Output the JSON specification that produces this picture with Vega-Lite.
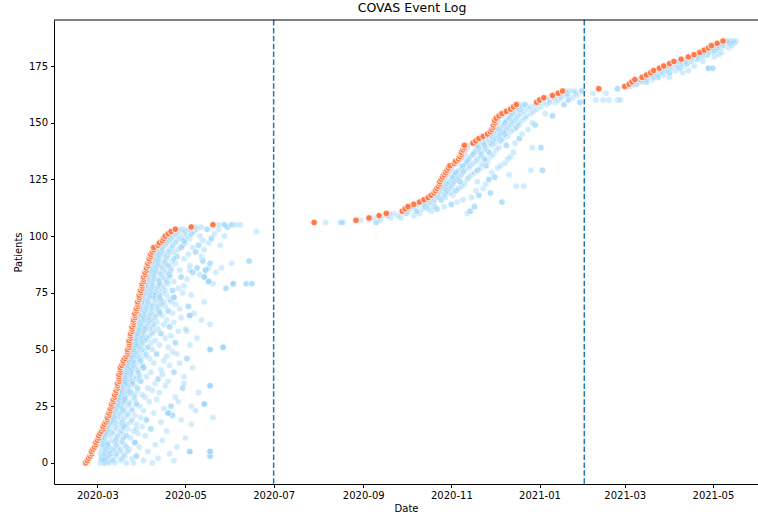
{
"$schema":"https://vega.github.io/schema/vega-lite/v6.json",
"width":704,"height":464,
"autosize":{"type":"none"},
"padding":{"left":54,"top":20,"right":0,"bottom":34},
"background":"white",
"title":{"text":"COVAS Event Log","fontSize":12.5,"fontWeight":"normal","font":"DejaVu Sans","color":"black","anchor":"middle","dx":6,"offset":5},
"config":{"view":{"stroke":null},"font":"DejaVu Sans","axis":{"labelFontSize":10,"titleFontSize":10,"labelColor":"black","titleColor":"black","tickColor":"black","domainColor":"black","domainWidth":1,"tickWidth":1,"tickSize":3.5,"grid":false,"titleFontWeight":"normal","labelFont":"DejaVu Sans","titleFont":"DejaVu Sans"}},
"datasets":{
"lines":[{"d":"2020-07-01"},{"d":"2021-02-01"}],
"adm":[
{"p":0,"d":"2020-02-22"},{"p":1,"d":"2020-02-23"},{"p":2,"d":"2020-02-24"},{"p":3,"d":"2020-02-25"},{"p":4,"d":"2020-02-26"},{"p":5,"d":"2020-02-26"},{"p":6,"d":"2020-02-27"},{"p":7,"d":"2020-02-28"},{"p":8,"d":"2020-02-29"},{"p":9,"d":"2020-02-29"},
{"p":10,"d":"2020-03-01"},{"p":11,"d":"2020-03-02"},{"p":12,"d":"2020-03-02"},{"p":13,"d":"2020-03-03"},{"p":14,"d":"2020-03-04"},{"p":15,"d":"2020-03-05"},{"p":16,"d":"2020-03-05"},{"p":17,"d":"2020-03-06"},{"p":18,"d":"2020-03-07"},{"p":19,"d":"2020-03-08"},
{"p":20,"d":"2020-03-08"},{"p":21,"d":"2020-03-09"},{"p":22,"d":"2020-03-09"},{"p":23,"d":"2020-03-10"},{"p":24,"d":"2020-03-10"},{"p":25,"d":"2020-03-11"},{"p":26,"d":"2020-03-11"},{"p":27,"d":"2020-03-12"},{"p":28,"d":"2020-03-12"},{"p":29,"d":"2020-03-13"},
{"p":30,"d":"2020-03-13"},{"p":31,"d":"2020-03-14"},{"p":32,"d":"2020-03-14"},{"p":33,"d":"2020-03-15"},{"p":34,"d":"2020-03-15"},{"p":35,"d":"2020-03-15"},{"p":36,"d":"2020-03-16"},{"p":37,"d":"2020-03-16"},{"p":38,"d":"2020-03-16"},{"p":39,"d":"2020-03-16"},
{"p":40,"d":"2020-03-17"},{"p":41,"d":"2020-03-17"},{"p":42,"d":"2020-03-17"},{"p":43,"d":"2020-03-18"},{"p":44,"d":"2020-03-19"},{"p":45,"d":"2020-03-19"},{"p":46,"d":"2020-03-20"},{"p":47,"d":"2020-03-21"},{"p":48,"d":"2020-03-22"},{"p":49,"d":"2020-03-22"},
{"p":50,"d":"2020-03-22"},{"p":51,"d":"2020-03-23"},{"p":52,"d":"2020-03-23"},{"p":53,"d":"2020-03-23"},{"p":54,"d":"2020-03-23"},{"p":55,"d":"2020-03-24"},{"p":56,"d":"2020-03-24"},{"p":57,"d":"2020-03-24"},{"p":58,"d":"2020-03-25"},{"p":59,"d":"2020-03-25"},
{"p":60,"d":"2020-03-25"},{"p":61,"d":"2020-03-26"},{"p":62,"d":"2020-03-26"},{"p":63,"d":"2020-03-26"},{"p":64,"d":"2020-03-27"},{"p":65,"d":"2020-03-27"},{"p":66,"d":"2020-03-27"},{"p":67,"d":"2020-03-28"},{"p":68,"d":"2020-03-28"},{"p":69,"d":"2020-03-29"},
{"p":70,"d":"2020-03-29"},{"p":71,"d":"2020-03-29"},{"p":72,"d":"2020-03-30"},{"p":73,"d":"2020-03-30"},{"p":74,"d":"2020-03-30"},{"p":75,"d":"2020-03-31"},{"p":76,"d":"2020-03-31"},{"p":77,"d":"2020-04-01"},{"p":78,"d":"2020-04-01"},{"p":79,"d":"2020-04-01"},
{"p":80,"d":"2020-04-02"},{"p":81,"d":"2020-04-02"},{"p":82,"d":"2020-04-02"},{"p":83,"d":"2020-04-03"},{"p":84,"d":"2020-04-03"},{"p":85,"d":"2020-04-04"},{"p":86,"d":"2020-04-04"},{"p":87,"d":"2020-04-05"},{"p":88,"d":"2020-04-05"},{"p":89,"d":"2020-04-06"},
{"p":90,"d":"2020-04-06"},{"p":91,"d":"2020-04-07"},{"p":92,"d":"2020-04-07"},{"p":93,"d":"2020-04-08"},{"p":94,"d":"2020-04-09"},{"p":95,"d":"2020-04-09"},{"p":96,"d":"2020-04-12"},{"p":97,"d":"2020-04-13"},{"p":98,"d":"2020-04-15"},{"p":99,"d":"2020-04-16"},
{"p":100,"d":"2020-04-17"},{"p":101,"d":"2020-04-19"},{"p":102,"d":"2020-04-21"},{"p":103,"d":"2020-04-24"},{"p":104,"d":"2020-05-05"},{"p":105,"d":"2020-05-20"},
{"p":106,"d":"2020-07-29"},{"p":107,"d":"2020-08-27"},{"p":108,"d":"2020-09-05"},{"p":109,"d":"2020-09-12"},{"p":110,"d":"2020-09-17"},{"p":111,"d":"2020-09-28"},{"p":112,"d":"2020-09-30"},{"p":113,"d":"2020-10-02"},{"p":114,"d":"2020-10-06"},{"p":115,"d":"2020-10-10"},
{"p":116,"d":"2020-10-13"},{"p":117,"d":"2020-10-16"},{"p":118,"d":"2020-10-18"},{"p":119,"d":"2020-10-20"},{"p":120,"d":"2020-10-21"},{"p":121,"d":"2020-10-22"},{"p":122,"d":"2020-10-23"},{"p":123,"d":"2020-10-24"},{"p":124,"d":"2020-10-24"},{"p":125,"d":"2020-10-25"},
{"p":126,"d":"2020-10-26"},{"p":127,"d":"2020-10-27"},{"p":128,"d":"2020-10-28"},{"p":129,"d":"2020-10-29"},{"p":130,"d":"2020-10-30"},{"p":131,"d":"2020-10-31"},{"p":132,"d":"2020-11-03"},{"p":133,"d":"2020-11-04"},{"p":134,"d":"2020-11-06"},{"p":135,"d":"2020-11-07"},
{"p":136,"d":"2020-11-08"},{"p":137,"d":"2020-11-08"},{"p":138,"d":"2020-11-09"},{"p":139,"d":"2020-11-10"},{"p":140,"d":"2020-11-10"},{"p":141,"d":"2020-11-16"},{"p":142,"d":"2020-11-18"},{"p":143,"d":"2020-11-20"},{"p":144,"d":"2020-11-23"},{"p":145,"d":"2020-11-26"},
{"p":146,"d":"2020-11-28"},{"p":147,"d":"2020-11-29"},{"p":148,"d":"2020-11-30"},{"p":149,"d":"2020-11-30"},{"p":150,"d":"2020-12-01"},{"p":151,"d":"2020-12-01"},{"p":152,"d":"2020-12-02"},{"p":153,"d":"2020-12-04"},{"p":154,"d":"2020-12-06"},{"p":155,"d":"2020-12-09"},
{"p":156,"d":"2020-12-12"},{"p":157,"d":"2020-12-14"},{"p":158,"d":"2020-12-16"},{"p":159,"d":"2020-12-30"},{"p":160,"d":"2021-01-01"},{"p":161,"d":"2021-01-04"},{"p":162,"d":"2021-01-10"},{"p":163,"d":"2021-01-14"},{"p":164,"d":"2021-01-17"},{"p":165,"d":"2021-02-11"},
{"p":166,"d":"2021-03-01"},{"p":167,"d":"2021-03-04"},{"p":168,"d":"2021-03-06"},{"p":169,"d":"2021-03-08"},{"p":170,"d":"2021-03-13"},{"p":171,"d":"2021-03-16"},{"p":172,"d":"2021-03-19"},{"p":173,"d":"2021-03-21"},{"p":174,"d":"2021-03-25"},{"p":175,"d":"2021-03-28"},
{"p":176,"d":"2021-04-01"},{"p":177,"d":"2021-04-04"},{"p":178,"d":"2021-04-09"},{"p":179,"d":"2021-04-14"},{"p":180,"d":"2021-04-18"},{"p":181,"d":"2021-04-22"},{"p":182,"d":"2021-04-25"},{"p":183,"d":"2021-04-28"},{"p":184,"d":"2021-04-30"},{"p":185,"d":"2021-05-04"},{"p":186,"d":"2021-05-08"}
],
"evt":[
{"p":0,"d":"2020-03-03"},{"p":0,"d":"2020-03-06"},{"p":0,"d":"2020-03-06"},{"p":0,"d":"2020-03-13"},{"p":0,"d":"2020-03-21"},{"p":0,"d":"2020-04-08"},
{"p":1,"d":"2020-03-04"},{"p":1,"d":"2020-03-09"},{"p":1,"d":"2020-03-17"},{"p":1,"d":"2020-04-02"},{"p":1,"d":"2020-04-23"},
{"p":2,"d":"2020-03-04"},{"p":2,"d":"2020-03-04"},{"p":2,"d":"2020-03-11"},{"p":2,"d":"2020-03-25"},{"p":2,"d":"2020-04-12"},
{"p":3,"d":"2020-03-05"},{"p":3,"d":"2020-03-14"},{"p":3,"d":"2020-03-28"},{"p":3,"d":"2020-03-28"},{"p":3,"d":"2020-05-18"},{"p":3,"d":"2020-05-18"},{"p":3,"d":"2020-05-18"},
{"p":4,"d":"2020-03-03"},{"p":4,"d":"2020-03-10"},{"p":4,"d":"2020-03-10"},{"p":4,"d":"2020-03-19"},{"p":4,"d":"2020-04-20"},
{"p":5,"d":"2020-03-06"},{"p":5,"d":"2020-03-16"},{"p":5,"d":"2020-04-05"},{"p":5,"d":"2020-05-04"},{"p":5,"d":"2020-05-04"},{"p":5,"d":"2020-05-04"},{"p":5,"d":"2020-05-18"},{"p":5,"d":"2020-05-18"},{"p":5,"d":"2020-05-18"},
{"p":6,"d":"2020-03-04"},{"p":6,"d":"2020-03-12"},{"p":6,"d":"2020-03-12"},{"p":6,"d":"2020-03-23"},
{"p":7,"d":"2020-03-06"},{"p":7,"d":"2020-03-15"},{"p":7,"d":"2020-03-30"},{"p":7,"d":"2020-04-25"},
{"p":8,"d":"2020-03-03"},{"p":8,"d":"2020-03-08"},{"p":8,"d":"2020-03-08"},{"p":8,"d":"2020-03-20"},{"p":8,"d":"2020-04-10"},
{"p":9,"d":"2020-03-05"},{"p":9,"d":"2020-03-13"},{"p":9,"d":"2020-03-27"},{"p":9,"d":"2020-03-27"},{"p":9,"d":"2020-03-27"},
{"p":10,"d":"2020-03-03"},{"p":10,"d":"2020-03-11"},{"p":10,"d":"2020-03-18"},{"p":10,"d":"2020-04-15"},
{"p":11,"d":"2020-03-04"},{"p":11,"d":"2020-03-04"},{"p":11,"d":"2020-03-14"},{"p":11,"d":"2020-03-24"},{"p":11,"d":"2020-05-01"},
{"p":12,"d":"2020-03-04"},{"p":12,"d":"2020-03-09"},{"p":12,"d":"2020-03-21"},{"p":12,"d":"2020-03-21"},{"p":12,"d":"2020-04-03"},
{"p":13,"d":"2020-03-05"},{"p":13,"d":"2020-03-17"},{"p":13,"d":"2020-03-29"},
{"p":14,"d":"2020-03-06"},{"p":14,"d":"2020-03-06"},{"p":14,"d":"2020-03-12"},{"p":14,"d":"2020-03-26"},{"p":14,"d":"2020-04-18"},
{"p":15,"d":"2020-03-07"},{"p":15,"d":"2020-03-15"},{"p":15,"d":"2020-03-22"},{"p":15,"d":"2020-04-07"},{"p":15,"d":"2020-04-07"},
{"p":16,"d":"2020-03-07"},{"p":16,"d":"2020-03-19"},{"p":16,"d":"2020-03-19"},{"p":16,"d":"2020-03-19"},{"p":16,"d":"2020-04-01"},
{"p":17,"d":"2020-03-08"},{"p":17,"d":"2020-03-16"},{"p":17,"d":"2020-03-28"},{"p":17,"d":"2020-05-05"},
{"p":18,"d":"2020-03-09"},{"p":18,"d":"2020-03-13"},{"p":18,"d":"2020-03-13"},{"p":18,"d":"2020-03-24"},{"p":18,"d":"2020-04-14"},
{"p":19,"d":"2020-03-10"},{"p":19,"d":"2020-03-18"},{"p":19,"d":"2020-04-04"},{"p":19,"d":"2020-04-04"},{"p":19,"d":"2020-04-28"},
{"p":20,"d":"2020-03-10"},{"p":20,"d":"2020-03-20"},{"p":20,"d":"2020-03-31"},{"p":20,"d":"2020-05-20"},
{"p":21,"d":"2020-03-11"},{"p":21,"d":"2020-03-11"},{"p":21,"d":"2020-03-17"},{"p":21,"d":"2020-03-27"},{"p":21,"d":"2020-04-22"},{"p":21,"d":"2020-04-22"},
{"p":22,"d":"2020-03-11"},{"p":22,"d":"2020-03-22"},{"p":22,"d":"2020-04-09"},{"p":22,"d":"2020-04-19"},{"p":22,"d":"2020-04-19"},{"p":22,"d":"2020-04-19"},
{"p":23,"d":"2020-03-12"},{"p":23,"d":"2020-03-19"},{"p":23,"d":"2020-03-19"},{"p":23,"d":"2020-04-02"},{"p":23,"d":"2020-05-08"},
{"p":24,"d":"2020-03-12"},{"p":24,"d":"2020-03-25"},{"p":24,"d":"2020-04-16"},
{"p":25,"d":"2020-03-13"},{"p":25,"d":"2020-03-13"},{"p":25,"d":"2020-03-21"},{"p":25,"d":"2020-03-30"},{"p":25,"d":"2020-04-21"},{"p":25,"d":"2020-04-21"},{"p":25,"d":"2020-05-05"},
{"p":26,"d":"2020-03-13"},{"p":26,"d":"2020-03-18"},{"p":26,"d":"2020-03-28"},{"p":26,"d":"2020-03-28"},{"p":26,"d":"2020-05-14"},{"p":26,"d":"2020-05-14"},{"p":26,"d":"2020-05-14"},
{"p":27,"d":"2020-03-14"},{"p":27,"d":"2020-03-23"},{"p":27,"d":"2020-04-06"},{"p":27,"d":"2020-04-26"},
{"p":28,"d":"2020-03-14"},{"p":28,"d":"2020-03-20"},{"p":28,"d":"2020-03-20"},{"p":28,"d":"2020-03-20"},{"p":28,"d":"2020-04-11"},
{"p":29,"d":"2020-03-15"},{"p":29,"d":"2020-03-26"},{"p":29,"d":"2020-04-03"},{"p":29,"d":"2020-04-24"},
{"p":30,"d":"2020-03-15"},{"p":30,"d":"2020-03-15"},{"p":30,"d":"2020-03-22"},{"p":30,"d":"2020-04-01"},
{"p":31,"d":"2020-03-16"},{"p":31,"d":"2020-03-24"},{"p":31,"d":"2020-03-24"},{"p":31,"d":"2020-04-13"},{"p":31,"d":"2020-05-10"},
{"p":32,"d":"2020-03-16"},{"p":32,"d":"2020-03-29"},{"p":32,"d":"2020-04-08"},
{"p":33,"d":"2020-03-17"},{"p":33,"d":"2020-03-17"},{"p":33,"d":"2020-03-23"},{"p":33,"d":"2020-04-05"},{"p":33,"d":"2020-04-29"},{"p":33,"d":"2020-04-29"},
{"p":34,"d":"2020-03-17"},{"p":34,"d":"2020-03-27"},{"p":34,"d":"2020-04-17"},{"p":34,"d":"2020-05-18"},{"p":34,"d":"2020-05-18"},{"p":34,"d":"2020-05-18"},
{"p":35,"d":"2020-03-17"},{"p":35,"d":"2020-03-25"},{"p":35,"d":"2020-03-25"},{"p":35,"d":"2020-04-10"},{"p":35,"d":"2020-04-30"},
{"p":36,"d":"2020-03-18"},{"p":36,"d":"2020-03-21"},{"p":36,"d":"2020-03-31"},{"p":36,"d":"2020-03-31"},{"p":36,"d":"2020-04-19"},
{"p":37,"d":"2020-03-18"},{"p":37,"d":"2020-03-28"},{"p":37,"d":"2020-04-12"},{"p":37,"d":"2020-04-12"},
{"p":38,"d":"2020-03-18"},{"p":38,"d":"2020-03-18"},{"p":38,"d":"2020-03-26"},{"p":38,"d":"2020-04-04"},{"p":38,"d":"2020-04-30"},
{"p":39,"d":"2020-03-19"},{"p":39,"d":"2020-03-30"},{"p":39,"d":"2020-04-15"},
{"p":40,"d":"2020-03-19"},{"p":40,"d":"2020-03-24"},{"p":40,"d":"2020-03-24"},{"p":40,"d":"2020-04-07"},{"p":40,"d":"2020-04-23"},{"p":40,"d":"2020-04-23"},
{"p":41,"d":"2020-03-19"},{"p":41,"d":"2020-03-19"},{"p":41,"d":"2020-03-29"},{"p":41,"d":"2020-04-14"},
{"p":42,"d":"2020-03-20"},{"p":42,"d":"2020-03-27"},{"p":42,"d":"2020-04-02"},{"p":42,"d":"2020-04-02"},{"p":42,"d":"2020-04-02"},{"p":42,"d":"2020-05-06"},
{"p":43,"d":"2020-03-20"},{"p":43,"d":"2020-04-01"},{"p":43,"d":"2020-04-20"},
{"p":44,"d":"2020-03-21"},{"p":44,"d":"2020-03-21"},{"p":44,"d":"2020-03-28"},{"p":44,"d":"2020-04-09"},{"p":44,"d":"2020-04-27"},
{"p":45,"d":"2020-03-21"},{"p":45,"d":"2020-03-31"},{"p":45,"d":"2020-03-31"},{"p":45,"d":"2020-04-16"},
{"p":46,"d":"2020-03-22"},{"p":46,"d":"2020-03-26"},{"p":46,"d":"2020-04-06"},{"p":46,"d":"2020-05-02"},{"p":46,"d":"2020-05-02"},
{"p":47,"d":"2020-03-23"},{"p":47,"d":"2020-03-23"},{"p":47,"d":"2020-04-03"},{"p":47,"d":"2020-04-18"},
{"p":48,"d":"2020-03-24"},{"p":48,"d":"2020-03-30"},{"p":48,"d":"2020-04-11"},{"p":48,"d":"2020-04-11"},{"p":48,"d":"2020-04-25"},
{"p":49,"d":"2020-03-24"},{"p":49,"d":"2020-04-02"},{"p":49,"d":"2020-04-22"},
{"p":50,"d":"2020-03-24"},{"p":50,"d":"2020-03-24"},{"p":50,"d":"2020-03-29"},{"p":50,"d":"2020-04-08"},{"p":50,"d":"2020-05-18"},{"p":50,"d":"2020-05-18"},{"p":50,"d":"2020-05-18"},
{"p":51,"d":"2020-03-25"},{"p":51,"d":"2020-04-05"},{"p":51,"d":"2020-04-05"},{"p":51,"d":"2020-04-19"},{"p":51,"d":"2020-05-27"},{"p":51,"d":"2020-05-27"},{"p":51,"d":"2020-05-27"},
{"p":52,"d":"2020-03-25"},{"p":52,"d":"2020-04-01"},{"p":52,"d":"2020-04-13"},{"p":52,"d":"2020-05-04"},
{"p":53,"d":"2020-03-25"},{"p":53,"d":"2020-03-25"},{"p":53,"d":"2020-04-07"},{"p":53,"d":"2020-04-24"},{"p":53,"d":"2020-04-24"},
{"p":54,"d":"2020-03-26"},{"p":54,"d":"2020-03-31"},{"p":54,"d":"2020-04-10"},
{"p":55,"d":"2020-03-26"},{"p":55,"d":"2020-04-04"},{"p":55,"d":"2020-04-04"},{"p":55,"d":"2020-04-17"},{"p":55,"d":"2020-05-09"},
{"p":56,"d":"2020-03-26"},{"p":56,"d":"2020-04-06"},{"p":56,"d":"2020-04-21"},
{"p":57,"d":"2020-03-27"},{"p":57,"d":"2020-03-27"},{"p":57,"d":"2020-04-02"},{"p":57,"d":"2020-04-14"},{"p":57,"d":"2020-04-14"},
{"p":58,"d":"2020-03-27"},{"p":58,"d":"2020-04-09"},{"p":58,"d":"2020-04-26"},{"p":58,"d":"2020-05-02"},
{"p":59,"d":"2020-03-28"},{"p":59,"d":"2020-04-03"},{"p":59,"d":"2020-04-03"},{"p":59,"d":"2020-04-12"},{"p":59,"d":"2020-05-01"},
{"p":60,"d":"2020-03-28"},{"p":60,"d":"2020-04-08"},{"p":60,"d":"2020-04-20"},{"p":60,"d":"2020-04-20"},
{"p":61,"d":"2020-03-28"},{"p":61,"d":"2020-03-28"},{"p":61,"d":"2020-04-05"},{"p":61,"d":"2020-04-16"},{"p":61,"d":"2020-05-18"},
{"p":62,"d":"2020-03-29"},{"p":62,"d":"2020-04-11"},{"p":62,"d":"2020-04-23"},
{"p":63,"d":"2020-03-29"},{"p":63,"d":"2020-04-07"},{"p":63,"d":"2020-04-07"},{"p":63,"d":"2020-04-18"},{"p":63,"d":"2020-05-12"},
{"p":64,"d":"2020-03-30"},{"p":64,"d":"2020-04-10"},{"p":64,"d":"2020-04-28"},
{"p":65,"d":"2020-03-30"},{"p":65,"d":"2020-03-30"},{"p":65,"d":"2020-04-06"},{"p":65,"d":"2020-04-15"},{"p":65,"d":"2020-05-04"},{"p":65,"d":"2020-05-04"},{"p":65,"d":"2020-05-04"},
{"p":66,"d":"2020-03-30"},{"p":66,"d":"2020-04-13"},{"p":66,"d":"2020-04-13"},{"p":66,"d":"2020-04-22"},{"p":66,"d":"2020-05-07"},
{"p":67,"d":"2020-03-31"},{"p":67,"d":"2020-04-09"},{"p":67,"d":"2020-04-19"},{"p":67,"d":"2020-04-19"},
{"p":68,"d":"2020-03-31"},{"p":68,"d":"2020-03-31"},{"p":68,"d":"2020-04-12"},{"p":68,"d":"2020-04-27"},
{"p":69,"d":"2020-04-01"},{"p":69,"d":"2020-04-08"},{"p":69,"d":"2020-04-17"},{"p":69,"d":"2020-05-03"},{"p":69,"d":"2020-05-03"},
{"p":70,"d":"2020-04-01"},{"p":70,"d":"2020-04-14"},{"p":70,"d":"2020-04-14"},{"p":70,"d":"2020-04-24"},
{"p":71,"d":"2020-04-01"},{"p":71,"d":"2020-04-01"},{"p":71,"d":"2020-04-11"},{"p":71,"d":"2020-04-21"},{"p":71,"d":"2020-05-14"},
{"p":72,"d":"2020-04-02"},{"p":72,"d":"2020-04-10"},{"p":72,"d":"2020-04-20"},
{"p":73,"d":"2020-04-02"},{"p":73,"d":"2020-04-13"},{"p":73,"d":"2020-04-13"},{"p":73,"d":"2020-04-23"},{"p":73,"d":"2020-04-23"},{"p":73,"d":"2020-04-23"},
{"p":74,"d":"2020-04-02"},{"p":74,"d":"2020-04-09"},{"p":74,"d":"2020-04-09"},{"p":74,"d":"2020-04-18"},{"p":74,"d":"2020-05-05"},
{"p":75,"d":"2020-04-03"},{"p":75,"d":"2020-04-03"},{"p":75,"d":"2020-04-15"},{"p":75,"d":"2020-04-29"},
{"p":76,"d":"2020-04-03"},{"p":76,"d":"2020-04-12"},{"p":76,"d":"2020-04-22"},{"p":76,"d":"2020-04-22"},
{"p":77,"d":"2020-04-04"},{"p":77,"d":"2020-04-14"},{"p":77,"d":"2020-04-26"},{"p":77,"d":"2020-05-29"},{"p":77,"d":"2020-05-29"},
{"p":78,"d":"2020-04-04"},{"p":78,"d":"2020-04-04"},{"p":78,"d":"2020-04-16"},{"p":78,"d":"2020-04-30"},
{"p":79,"d":"2020-04-04"},{"p":79,"d":"2020-04-19"},{"p":79,"d":"2020-05-20"},{"p":79,"d":"2020-06-03"},{"p":79,"d":"2020-06-03"},{"p":79,"d":"2020-06-03"},{"p":79,"d":"2020-06-12"},{"p":79,"d":"2020-06-12"},{"p":79,"d":"2020-06-16"},{"p":79,"d":"2020-06-16"},
{"p":80,"d":"2020-04-05"},{"p":80,"d":"2020-04-13"},{"p":80,"d":"2020-04-13"},{"p":80,"d":"2020-04-23"},{"p":80,"d":"2020-05-17"},{"p":80,"d":"2020-05-17"},{"p":80,"d":"2020-05-17"},
{"p":81,"d":"2020-04-05"},{"p":81,"d":"2020-04-05"},{"p":81,"d":"2020-04-17"},{"p":81,"d":"2020-05-02"},
{"p":82,"d":"2020-04-05"},{"p":82,"d":"2020-04-15"},{"p":82,"d":"2020-04-28"},{"p":82,"d":"2020-04-28"},{"p":82,"d":"2020-05-14"},{"p":82,"d":"2020-05-14"},{"p":82,"d":"2020-05-14"},
{"p":83,"d":"2020-04-06"},{"p":83,"d":"2020-04-20"},{"p":83,"d":"2020-04-20"},{"p":83,"d":"2020-05-11"},
{"p":84,"d":"2020-04-06"},{"p":84,"d":"2020-04-18"},{"p":84,"d":"2020-05-06"},{"p":84,"d":"2020-05-06"},{"p":84,"d":"2020-05-22"},
{"p":85,"d":"2020-04-07"},{"p":85,"d":"2020-04-07"},{"p":85,"d":"2020-04-16"},{"p":85,"d":"2020-04-27"},{"p":85,"d":"2020-05-04"},{"p":85,"d":"2020-05-15"},{"p":85,"d":"2020-05-15"},{"p":85,"d":"2020-05-15"},
{"p":86,"d":"2020-04-07"},{"p":86,"d":"2020-04-21"},{"p":86,"d":"2020-05-09"},{"p":86,"d":"2020-05-09"},{"p":86,"d":"2020-05-17"},{"p":86,"d":"2020-05-26"},
{"p":87,"d":"2020-04-08"},{"p":87,"d":"2020-04-19"},{"p":87,"d":"2020-04-19"},{"p":87,"d":"2020-05-04"},
{"p":88,"d":"2020-04-08"},{"p":88,"d":"2020-04-24"},{"p":88,"d":"2020-05-18"},{"p":88,"d":"2020-05-18"},{"p":88,"d":"2020-06-02"},
{"p":89,"d":"2020-04-09"},{"p":89,"d":"2020-04-09"},{"p":89,"d":"2020-04-22"},{"p":89,"d":"2020-05-13"},{"p":89,"d":"2020-05-13"},{"p":89,"d":"2020-06-14"},{"p":89,"d":"2020-06-14"},
{"p":90,"d":"2020-04-09"},{"p":90,"d":"2020-04-18"},{"p":90,"d":"2020-04-30"},
{"p":91,"d":"2020-04-10"},{"p":91,"d":"2020-04-25"},{"p":91,"d":"2020-04-25"},{"p":91,"d":"2020-05-12"},
{"p":92,"d":"2020-04-10"},{"p":92,"d":"2020-04-10"},{"p":92,"d":"2020-04-20"},{"p":92,"d":"2020-05-03"},
{"p":93,"d":"2020-04-11"},{"p":93,"d":"2020-04-23"},{"p":93,"d":"2020-05-08"},{"p":93,"d":"2020-05-08"},
{"p":94,"d":"2020-04-11"},{"p":94,"d":"2020-04-11"},{"p":94,"d":"2020-04-26"},{"p":94,"d":"2020-05-14"},
{"p":95,"d":"2020-04-12"},{"p":95,"d":"2020-04-28"},{"p":95,"d":"2020-04-28"},{"p":95,"d":"2020-05-06"},
{"p":96,"d":"2020-04-14"},{"p":96,"d":"2020-04-29"},{"p":96,"d":"2020-05-10"},{"p":96,"d":"2020-05-10"},{"p":96,"d":"2020-05-25"},
{"p":97,"d":"2020-04-15"},{"p":97,"d":"2020-04-15"},{"p":97,"d":"2020-05-01"},{"p":97,"d":"2020-05-17"},
{"p":98,"d":"2020-04-17"},{"p":98,"d":"2020-04-30"},{"p":98,"d":"2020-04-30"},{"p":98,"d":"2020-05-13"},
{"p":99,"d":"2020-04-18"},{"p":99,"d":"2020-05-04"},{"p":99,"d":"2020-05-19"},{"p":99,"d":"2020-05-19"},
{"p":100,"d":"2020-04-19"},{"p":100,"d":"2020-04-19"},{"p":100,"d":"2020-05-02"},{"p":100,"d":"2020-05-11"},{"p":100,"d":"2020-05-28"},
{"p":101,"d":"2020-04-21"},{"p":101,"d":"2020-05-05"},{"p":101,"d":"2020-05-05"},{"p":101,"d":"2020-05-21"},
{"p":102,"d":"2020-04-23"},{"p":102,"d":"2020-04-23"},{"p":102,"d":"2020-05-07"},{"p":102,"d":"2020-06-19"},
{"p":103,"d":"2020-04-26"},{"p":103,"d":"2020-05-09"},{"p":103,"d":"2020-05-16"},{"p":103,"d":"2020-05-16"},{"p":103,"d":"2020-05-24"},
{"p":104,"d":"2020-05-08"},{"p":104,"d":"2020-05-20"},{"p":104,"d":"2020-05-30"},{"p":104,"d":"2020-05-30"},
{"p":105,"d":"2020-05-24"},{"p":105,"d":"2020-05-28"},{"p":105,"d":"2020-05-28"},{"p":105,"d":"2020-06-02"},{"p":105,"d":"2020-06-02"},{"p":105,"d":"2020-06-05"},
{"p":106,"d":"2020-08-06"},{"p":106,"d":"2020-08-16"},{"p":106,"d":"2020-08-17"},{"p":106,"d":"2020-08-18"},{"p":106,"d":"2020-09-10"},{"p":106,"d":"2020-09-10"},
{"p":107,"d":"2020-09-05"},{"p":107,"d":"2020-09-13"},
{"p":108,"d":"2020-09-12"},{"p":108,"d":"2020-09-20"},{"p":108,"d":"2020-09-27"},
{"p":109,"d":"2020-09-18"},{"p":109,"d":"2020-09-18"},{"p":109,"d":"2020-09-25"},{"p":109,"d":"2020-10-06"},
{"p":110,"d":"2020-09-22"},{"p":110,"d":"2020-09-30"},{"p":110,"d":"2020-10-10"},{"p":110,"d":"2020-11-12"},
{"p":111,"d":"2020-10-02"},{"p":111,"d":"2020-10-08"},{"p":111,"d":"2020-10-08"},{"p":111,"d":"2020-10-18"},{"p":111,"d":"2020-11-14"},{"p":111,"d":"2020-11-14"},
{"p":112,"d":"2020-10-04"},{"p":112,"d":"2020-10-12"},{"p":112,"d":"2020-10-22"},{"p":112,"d":"2020-10-22"},
{"p":113,"d":"2020-10-06"},{"p":113,"d":"2020-10-14"},{"p":113,"d":"2020-10-14"},{"p":113,"d":"2020-10-27"},{"p":113,"d":"2020-11-17"},{"p":113,"d":"2020-11-17"},
{"p":114,"d":"2020-10-09"},{"p":114,"d":"2020-10-16"},{"p":114,"d":"2020-11-01"},{"p":114,"d":"2020-11-01"},
{"p":115,"d":"2020-10-13"},{"p":115,"d":"2020-10-13"},{"p":115,"d":"2020-10-20"},{"p":115,"d":"2020-11-05"},{"p":115,"d":"2020-12-06"},{"p":115,"d":"2020-12-06"},
{"p":116,"d":"2020-10-16"},{"p":116,"d":"2020-10-25"},{"p":116,"d":"2020-10-25"},{"p":116,"d":"2020-11-09"},
{"p":117,"d":"2020-10-19"},{"p":117,"d":"2020-10-28"},{"p":117,"d":"2020-11-15"},
{"p":118,"d":"2020-10-22"},{"p":118,"d":"2020-10-22"},{"p":118,"d":"2020-11-02"},{"p":118,"d":"2020-11-20"},{"p":118,"d":"2020-11-20"},
{"p":119,"d":"2020-10-24"},{"p":119,"d":"2020-10-31"},{"p":119,"d":"2020-11-28"},{"p":119,"d":"2020-11-28"},
{"p":120,"d":"2020-10-25"},{"p":120,"d":"2020-11-04"},{"p":120,"d":"2020-11-04"},{"p":120,"d":"2020-11-18"},
{"p":121,"d":"2020-10-27"},{"p":121,"d":"2020-10-27"},{"p":121,"d":"2020-11-06"},{"p":121,"d":"2020-11-23"},
{"p":122,"d":"2020-10-28"},{"p":122,"d":"2020-11-08"},{"p":122,"d":"2020-12-16"},{"p":122,"d":"2020-12-21"},
{"p":123,"d":"2020-10-29"},{"p":123,"d":"2020-10-29"},{"p":123,"d":"2020-11-10"},{"p":123,"d":"2020-11-25"},
{"p":124,"d":"2020-10-30"},{"p":124,"d":"2020-11-07"},{"p":124,"d":"2020-11-07"},{"p":124,"d":"2020-11-19"},
{"p":125,"d":"2020-11-01"},{"p":125,"d":"2020-11-12"},{"p":125,"d":"2020-11-27"},{"p":125,"d":"2020-11-27"},
{"p":126,"d":"2020-11-02"},{"p":126,"d":"2020-11-02"},{"p":126,"d":"2020-11-13"},{"p":126,"d":"2020-12-01"},{"p":126,"d":"2020-12-01"},
{"p":127,"d":"2020-11-03"},{"p":127,"d":"2020-11-15"},{"p":127,"d":"2020-12-11"},
{"p":128,"d":"2020-11-04"},{"p":128,"d":"2020-11-04"},{"p":128,"d":"2020-11-17"},{"p":128,"d":"2020-11-29"},
{"p":129,"d":"2020-11-06"},{"p":129,"d":"2020-11-19"},{"p":129,"d":"2020-11-19"},{"p":129,"d":"2020-12-26"},{"p":129,"d":"2021-01-03"},{"p":129,"d":"2021-01-03"},
{"p":130,"d":"2020-11-08"},{"p":130,"d":"2020-11-21"},{"p":130,"d":"2020-12-03"},
{"p":131,"d":"2020-11-09"},{"p":131,"d":"2020-11-09"},{"p":131,"d":"2020-11-25"},{"p":131,"d":"2020-11-25"},{"p":131,"d":"2020-12-05"},
{"p":132,"d":"2020-11-11"},{"p":132,"d":"2020-11-22"},{"p":132,"d":"2020-12-08"},
{"p":133,"d":"2020-11-12"},{"p":133,"d":"2020-11-12"},{"p":133,"d":"2020-11-26"},
{"p":134,"d":"2020-11-13"},{"p":134,"d":"2020-11-24"},{"p":134,"d":"2020-11-24"},{"p":134,"d":"2020-12-10"},
{"p":135,"d":"2020-11-14"},{"p":135,"d":"2020-11-28"},{"p":135,"d":"2020-12-12"},
{"p":136,"d":"2020-11-16"},{"p":136,"d":"2020-11-16"},{"p":136,"d":"2020-11-30"},
{"p":137,"d":"2020-11-17"},{"p":137,"d":"2020-11-27"},{"p":137,"d":"2020-11-27"},{"p":137,"d":"2020-12-14"},
{"p":138,"d":"2020-11-18"},{"p":138,"d":"2020-12-02"},
{"p":139,"d":"2020-11-20"},{"p":139,"d":"2020-11-20"},{"p":139,"d":"2020-12-04"},{"p":139,"d":"2020-12-27"},{"p":139,"d":"2021-01-02"},{"p":139,"d":"2021-01-02"},
{"p":140,"d":"2020-11-19"},{"p":140,"d":"2020-11-29"},{"p":140,"d":"2020-12-09"},{"p":140,"d":"2020-12-09"},
{"p":141,"d":"2020-11-23"},{"p":141,"d":"2020-11-23"},{"p":141,"d":"2020-12-01"},{"p":141,"d":"2020-12-15"},
{"p":142,"d":"2020-11-25"},{"p":142,"d":"2020-12-05"},{"p":142,"d":"2020-12-05"},
{"p":143,"d":"2020-11-27"},{"p":143,"d":"2020-12-07"},{"p":143,"d":"2020-12-18"},{"p":143,"d":"2020-12-18"},
{"p":144,"d":"2020-11-29"},{"p":144,"d":"2020-11-29"},{"p":144,"d":"2020-12-10"},
{"p":145,"d":"2020-12-01"},{"p":145,"d":"2020-12-08"},{"p":145,"d":"2020-12-08"},{"p":145,"d":"2020-12-20"},
{"p":146,"d":"2020-12-03"},{"p":146,"d":"2020-12-12"},
{"p":147,"d":"2020-12-04"},{"p":147,"d":"2020-12-04"},{"p":147,"d":"2020-12-14"},{"p":147,"d":"2020-12-24"},
{"p":148,"d":"2020-12-06"},{"p":148,"d":"2020-12-16"},{"p":148,"d":"2020-12-16"},
{"p":149,"d":"2020-12-07"},{"p":149,"d":"2020-12-18"},{"p":149,"d":"2020-12-29"},{"p":149,"d":"2020-12-29"},
{"p":150,"d":"2020-12-08"},{"p":150,"d":"2020-12-08"},{"p":150,"d":"2020-12-17"},{"p":150,"d":"2020-12-27"},
{"p":151,"d":"2020-12-09"},{"p":151,"d":"2020-12-20"},
{"p":152,"d":"2020-12-11"},{"p":152,"d":"2020-12-11"},{"p":152,"d":"2020-12-22"},
{"p":153,"d":"2020-12-12"},{"p":153,"d":"2020-12-23"},{"p":153,"d":"2021-01-10"},{"p":153,"d":"2021-01-10"},
{"p":154,"d":"2020-12-13"},{"p":154,"d":"2020-12-13"},{"p":154,"d":"2020-12-26"},{"p":154,"d":"2021-01-05"},
{"p":155,"d":"2020-12-15"},{"p":155,"d":"2020-12-28"},
{"p":156,"d":"2020-12-18"},{"p":156,"d":"2020-12-18"},{"p":156,"d":"2020-12-30"},
{"p":157,"d":"2020-12-20"},{"p":157,"d":"2021-01-02"},
{"p":158,"d":"2020-12-22"},{"p":158,"d":"2020-12-22"},{"p":158,"d":"2021-01-06"},{"p":158,"d":"2021-01-18"},{"p":158,"d":"2021-01-18"},
{"p":159,"d":"2021-01-04"},{"p":159,"d":"2021-01-12"},{"p":159,"d":"2021-01-29"},{"p":159,"d":"2021-01-29"},
{"p":160,"d":"2021-01-08"},{"p":160,"d":"2021-01-21"},{"p":160,"d":"2021-01-21"},{"p":160,"d":"2021-02-09"},{"p":160,"d":"2021-02-14"},{"p":160,"d":"2021-02-18"},{"p":160,"d":"2021-02-24"},{"p":160,"d":"2021-02-26"},
{"p":161,"d":"2021-01-11"},{"p":161,"d":"2021-01-11"},{"p":161,"d":"2021-01-24"},
{"p":162,"d":"2021-01-16"},{"p":162,"d":"2021-01-27"},
{"p":163,"d":"2021-01-20"},{"p":163,"d":"2021-01-20"},{"p":163,"d":"2021-02-07"},{"p":163,"d":"2021-02-16"},
{"p":164,"d":"2021-01-22"},{"p":164,"d":"2021-01-30"},{"p":164,"d":"2021-01-30"},
{"p":165,"d":"2021-02-24"},{"p":165,"d":"2021-02-24"},
{"p":166,"d":"2021-03-05"},
{"p":167,"d":"2021-03-05"},{"p":167,"d":"2021-03-09"},{"p":167,"d":"2021-03-09"},
{"p":168,"d":"2021-03-10"},{"p":168,"d":"2021-03-16"},{"p":168,"d":"2021-03-16"},
{"p":169,"d":"2021-03-12"},{"p":169,"d":"2021-03-12"},{"p":169,"d":"2021-03-20"},
{"p":170,"d":"2021-03-17"},{"p":170,"d":"2021-03-24"},{"p":170,"d":"2021-03-24"},{"p":170,"d":"2021-04-01"},
{"p":171,"d":"2021-03-20"},{"p":171,"d":"2021-03-20"},{"p":171,"d":"2021-03-28"},
{"p":172,"d":"2021-03-23"},{"p":172,"d":"2021-04-01"},{"p":172,"d":"2021-04-01"},{"p":172,"d":"2021-04-10"},
{"p":173,"d":"2021-03-26"},{"p":173,"d":"2021-03-26"},{"p":173,"d":"2021-04-05"},{"p":173,"d":"2021-04-14"},
{"p":174,"d":"2021-03-29"},{"p":174,"d":"2021-04-08"},{"p":174,"d":"2021-04-08"},{"p":174,"d":"2021-04-28"},{"p":174,"d":"2021-04-28"},{"p":174,"d":"2021-04-28"},{"p":174,"d":"2021-05-01"},{"p":174,"d":"2021-05-01"},
{"p":175,"d":"2021-04-01"},{"p":175,"d":"2021-04-01"},{"p":175,"d":"2021-04-11"},{"p":175,"d":"2021-04-18"},
{"p":176,"d":"2021-04-05"},{"p":176,"d":"2021-04-13"},{"p":176,"d":"2021-04-13"},
{"p":177,"d":"2021-04-08"},{"p":177,"d":"2021-04-08"},{"p":177,"d":"2021-04-16"},{"p":177,"d":"2021-04-24"},
{"p":178,"d":"2021-04-13"},{"p":178,"d":"2021-04-20"},{"p":178,"d":"2021-04-20"},
{"p":179,"d":"2021-04-17"},{"p":179,"d":"2021-04-17"},{"p":179,"d":"2021-04-24"},{"p":179,"d":"2021-05-02"},
{"p":180,"d":"2021-04-21"},{"p":180,"d":"2021-04-27"},{"p":180,"d":"2021-04-27"},{"p":180,"d":"2021-05-05"},
{"p":181,"d":"2021-04-25"},{"p":181,"d":"2021-04-25"},{"p":181,"d":"2021-05-01"},{"p":181,"d":"2021-05-07"},
{"p":182,"d":"2021-04-28"},{"p":182,"d":"2021-05-03"},{"p":182,"d":"2021-05-03"},
{"p":183,"d":"2021-05-01"},{"p":183,"d":"2021-05-01"},{"p":183,"d":"2021-05-06"},{"p":183,"d":"2021-05-12"},
{"p":184,"d":"2021-05-03"},{"p":184,"d":"2021-05-08"},{"p":184,"d":"2021-05-08"},{"p":184,"d":"2021-05-14"},
{"p":185,"d":"2021-05-06"},{"p":185,"d":"2021-05-06"},{"p":185,"d":"2021-05-11"},{"p":185,"d":"2021-05-16"},
{"p":186,"d":"2021-05-10"},{"p":186,"d":"2021-05-13"},{"p":186,"d":"2021-05-17"},
{"p":0,"d":"2020-03-09"},{"p":0,"d":"2020-03-26"},{"p":1,"d":"2020-03-06"},{"p":1,"d":"2020-03-12"},{"p":2,"d":"2020-03-07"},{"p":2,"d":"2020-03-18"},{"p":3,"d":"2020-03-08"},{"p":3,"d":"2020-03-20"},{"p":4,"d":"2020-03-06"},{"p":4,"d":"2020-03-14"},
{"p":5,"d":"2020-03-09"},{"p":5,"d":"2020-03-22"},{"p":6,"d":"2020-03-07"},{"p":6,"d":"2020-03-17"},{"p":7,"d":"2020-03-09"},{"p":7,"d":"2020-03-21"},{"p":8,"d":"2020-03-05"},{"p":8,"d":"2020-03-14"},{"p":9,"d":"2020-03-08"},{"p":9,"d":"2020-03-18"},
{"p":10,"d":"2020-03-05"},{"p":10,"d":"2020-03-14"},{"p":11,"d":"2020-03-06"},{"p":11,"d":"2020-03-19"},{"p":12,"d":"2020-03-06"},{"p":12,"d":"2020-03-15"},{"p":13,"d":"2020-03-07"},{"p":13,"d":"2020-03-11"},{"p":14,"d":"2020-03-08"},{"p":14,"d":"2020-03-18"},
{"p":15,"d":"2020-03-09"},{"p":15,"d":"2020-03-28"},{"p":16,"d":"2020-03-08"},{"p":16,"d":"2020-03-13"},{"p":17,"d":"2020-03-10"},{"p":17,"d":"2020-03-21"},{"p":18,"d":"2020-03-10"},{"p":18,"d":"2020-03-18"},{"p":19,"d":"2020-03-12"},{"p":19,"d":"2020-03-25"},
{"p":20,"d":"2020-03-12"},{"p":20,"d":"2020-03-15"},{"p":21,"d":"2020-03-13"},{"p":21,"d":"2020-03-22"},{"p":22,"d":"2020-03-12"},{"p":22,"d":"2020-03-16"},{"p":23,"d":"2020-03-14"},{"p":23,"d":"2020-03-25"},{"p":24,"d":"2020-03-14"},{"p":24,"d":"2020-03-18"},
{"p":25,"d":"2020-03-15"},{"p":25,"d":"2020-03-17"},{"p":26,"d":"2020-03-15"},{"p":26,"d":"2020-03-23"},{"p":27,"d":"2020-03-16"},{"p":27,"d":"2020-03-19"},{"p":28,"d":"2020-03-16"},{"p":28,"d":"2020-03-27"},{"p":29,"d":"2020-03-17"},{"p":29,"d":"2020-03-20"},
{"p":30,"d":"2020-03-17"},{"p":30,"d":"2020-03-27"},{"p":31,"d":"2020-03-18"},{"p":31,"d":"2020-03-20"},{"p":32,"d":"2020-03-18"},{"p":32,"d":"2020-03-22"},{"p":33,"d":"2020-03-19"},{"p":33,"d":"2020-03-29"},{"p":34,"d":"2020-03-19"},{"p":34,"d":"2020-03-22"},
{"p":35,"d":"2020-03-20"},{"p":35,"d":"2020-03-21"},{"p":36,"d":"2020-03-20"},{"p":36,"d":"2020-03-25"},{"p":37,"d":"2020-03-20"},{"p":37,"d":"2020-03-23"},{"p":38,"d":"2020-03-21"},{"p":38,"d":"2020-03-30"},{"p":39,"d":"2020-03-21"},{"p":39,"d":"2020-03-24"},
{"p":40,"d":"2020-03-21"},{"p":40,"d":"2020-03-29"},{"p":41,"d":"2020-03-22"},{"p":41,"d":"2020-03-25"},{"p":42,"d":"2020-03-22"},{"p":42,"d":"2020-03-24"},{"p":43,"d":"2020-03-22"},{"p":43,"d":"2020-03-26"},{"p":44,"d":"2020-03-23"},{"p":44,"d":"2020-03-25"},
{"p":45,"d":"2020-03-23"},{"p":45,"d":"2020-03-26"},{"p":46,"d":"2020-03-24"},{"p":46,"d":"2020-03-30"},{"p":47,"d":"2020-03-25"},{"p":47,"d":"2020-03-28"},{"p":48,"d":"2020-03-26"},{"p":48,"d":"2020-04-04"},{"p":49,"d":"2020-03-26"},{"p":49,"d":"2020-03-28"},
{"p":50,"d":"2020-03-26"},{"p":50,"d":"2020-04-01"},{"p":51,"d":"2020-03-27"},{"p":51,"d":"2020-03-30"},{"p":52,"d":"2020-03-27"},{"p":52,"d":"2020-03-29"},{"p":53,"d":"2020-03-28"},{"p":53,"d":"2020-04-01"},{"p":54,"d":"2020-03-28"},{"p":54,"d":"2020-04-03"},
{"p":55,"d":"2020-03-28"},{"p":55,"d":"2020-03-31"},{"p":56,"d":"2020-03-29"},{"p":56,"d":"2020-04-01"},{"p":57,"d":"2020-03-29"},{"p":57,"d":"2020-04-08"},{"p":58,"d":"2020-03-30"},{"p":58,"d":"2020-04-02"},{"p":59,"d":"2020-03-30"},{"p":59,"d":"2020-04-06"},
{"p":60,"d":"2020-03-31"},{"p":60,"d":"2020-04-03"},{"p":61,"d":"2020-03-31"},{"p":61,"d":"2020-04-09"},{"p":62,"d":"2020-04-01"},{"p":62,"d":"2020-04-05"},{"p":63,"d":"2020-04-01"},{"p":63,"d":"2020-04-03"},{"p":64,"d":"2020-04-02"},{"p":64,"d":"2020-04-05"},
{"p":65,"d":"2020-04-02"},{"p":65,"d":"2020-04-10"},{"p":66,"d":"2020-04-03"},{"p":66,"d":"2020-04-07"},{"p":67,"d":"2020-04-03"},{"p":67,"d":"2020-04-13"},{"p":68,"d":"2020-04-04"},{"p":68,"d":"2020-04-07"},{"p":69,"d":"2020-04-04"},{"p":69,"d":"2020-04-11"},
{"p":70,"d":"2020-04-05"},{"p":70,"d":"2020-04-08"},{"p":71,"d":"2020-04-05"},{"p":71,"d":"2020-04-16"},{"p":72,"d":"2020-04-05"},{"p":72,"d":"2020-04-14"},{"p":73,"d":"2020-04-06"},{"p":73,"d":"2020-04-09"},{"p":74,"d":"2020-04-06"},{"p":74,"d":"2020-04-13"},
{"p":75,"d":"2020-04-06"},{"p":75,"d":"2020-04-10"},{"p":76,"d":"2020-04-07"},{"p":76,"d":"2020-04-17"},{"p":77,"d":"2020-04-07"},{"p":77,"d":"2020-04-10"},{"p":78,"d":"2020-04-08"},{"p":78,"d":"2020-04-12"},{"p":79,"d":"2020-04-08"},{"p":79,"d":"2020-04-13"},
{"p":80,"d":"2020-04-08"},{"p":80,"d":"2020-04-18"},{"p":81,"d":"2020-04-09"},{"p":81,"d":"2020-04-12"},{"p":82,"d":"2020-04-09"},{"p":82,"d":"2020-04-20"},{"p":83,"d":"2020-04-09"},{"p":83,"d":"2020-04-14"},{"p":84,"d":"2020-04-10"},{"p":84,"d":"2020-04-13"},
{"p":85,"d":"2020-04-10"},{"p":85,"d":"2020-04-21"},{"p":86,"d":"2020-04-11"},{"p":86,"d":"2020-04-15"},{"p":87,"d":"2020-04-11"},{"p":87,"d":"2020-04-14"},{"p":88,"d":"2020-04-12"},{"p":88,"d":"2020-04-17"},{"p":89,"d":"2020-04-12"},{"p":89,"d":"2020-04-16"},
{"p":90,"d":"2020-04-12"},{"p":90,"d":"2020-04-23"},{"p":91,"d":"2020-04-13"},{"p":91,"d":"2020-04-18"},{"p":92,"d":"2020-04-13"},{"p":92,"d":"2020-04-16"},{"p":93,"d":"2020-04-14"},{"p":93,"d":"2020-04-19"},{"p":94,"d":"2020-04-15"},{"p":94,"d":"2020-04-20"},
{"p":95,"d":"2020-04-15"},{"p":95,"d":"2020-04-22"},{"p":96,"d":"2020-04-17"},{"p":96,"d":"2020-04-22"},{"p":97,"d":"2020-04-18"},{"p":97,"d":"2020-04-24"},{"p":98,"d":"2020-04-20"},{"p":98,"d":"2020-04-25"},{"p":99,"d":"2020-04-21"},{"p":99,"d":"2020-04-28"},
{"p":100,"d":"2020-04-22"},{"p":100,"d":"2020-04-26"},{"p":101,"d":"2020-04-24"},{"p":101,"d":"2020-04-30"},{"p":102,"d":"2020-04-26"},{"p":102,"d":"2020-05-01"},{"p":103,"d":"2020-04-29"},{"p":103,"d":"2020-05-03"},{"p":104,"d":"2020-05-12"},{"p":105,"d":"2020-06-08"},
{"p":107,"d":"2020-08-30"},{"p":108,"d":"2020-09-08"},{"p":109,"d":"2020-09-14"},{"p":110,"d":"2020-09-19"},{"p":110,"d":"2020-10-01"},{"p":111,"d":"2020-09-30"},{"p":112,"d":"2020-10-02"},{"p":112,"d":"2020-10-16"},{"p":113,"d":"2020-10-04"},{"p":113,"d":"2020-10-20"},
{"p":114,"d":"2020-10-08"},{"p":114,"d":"2020-10-13"},{"p":115,"d":"2020-10-12"},{"p":115,"d":"2020-10-17"},{"p":116,"d":"2020-10-15"},{"p":116,"d":"2020-10-20"},{"p":117,"d":"2020-10-18"},{"p":117,"d":"2020-10-23"},{"p":118,"d":"2020-10-20"},{"p":118,"d":"2020-10-27"},
{"p":119,"d":"2020-10-22"},{"p":119,"d":"2020-10-28"},{"p":120,"d":"2020-10-23"},{"p":120,"d":"2020-10-29"},{"p":121,"d":"2020-10-24"},{"p":121,"d":"2020-10-31"},{"p":122,"d":"2020-10-25"},{"p":122,"d":"2020-11-01"},{"p":123,"d":"2020-10-26"},{"p":123,"d":"2020-11-02"},
{"p":124,"d":"2020-10-26"},{"p":124,"d":"2020-11-03"},{"p":125,"d":"2020-10-27"},{"p":125,"d":"2020-11-05"},{"p":126,"d":"2020-10-28"},{"p":126,"d":"2020-11-06"},{"p":127,"d":"2020-10-29"},{"p":127,"d":"2020-11-08"},{"p":128,"d":"2020-10-30"},{"p":128,"d":"2020-11-09"},
{"p":129,"d":"2020-10-31"},{"p":129,"d":"2020-11-10"},{"p":130,"d":"2020-11-01"},{"p":130,"d":"2020-11-13"},{"p":131,"d":"2020-11-02"},{"p":131,"d":"2020-11-14"},{"p":132,"d":"2020-11-05"},{"p":132,"d":"2020-11-16"},{"p":133,"d":"2020-11-06"},{"p":133,"d":"2020-11-18"},
{"p":134,"d":"2020-11-08"},{"p":134,"d":"2020-11-19"},{"p":135,"d":"2020-11-09"},{"p":135,"d":"2020-11-21"},{"p":136,"d":"2020-11-10"},{"p":136,"d":"2020-11-22"},{"p":137,"d":"2020-11-10"},{"p":137,"d":"2020-11-21"},{"p":138,"d":"2020-11-11"},{"p":138,"d":"2020-11-24"},
{"p":139,"d":"2020-11-12"},{"p":139,"d":"2020-11-25"},{"p":140,"d":"2020-11-12"},{"p":140,"d":"2020-11-24"},{"p":141,"d":"2020-11-18"},{"p":141,"d":"2020-11-28"},{"p":142,"d":"2020-11-20"},{"p":142,"d":"2020-11-30"},{"p":143,"d":"2020-11-22"},{"p":143,"d":"2020-12-02"},
{"p":144,"d":"2020-11-25"},{"p":144,"d":"2020-12-04"},{"p":145,"d":"2020-11-28"},{"p":145,"d":"2020-12-05"},{"p":146,"d":"2020-11-30"},{"p":146,"d":"2020-12-07"},{"p":147,"d":"2020-12-01"},{"p":147,"d":"2020-12-09"},{"p":148,"d":"2020-12-02"},{"p":148,"d":"2020-12-10"},
{"p":149,"d":"2020-12-02"},{"p":149,"d":"2020-12-12"},{"p":150,"d":"2020-12-03"},{"p":150,"d":"2020-12-13"},{"p":151,"d":"2020-12-03"},{"p":151,"d":"2020-12-14"},{"p":152,"d":"2020-12-04"},{"p":152,"d":"2020-12-16"},{"p":153,"d":"2020-12-06"},{"p":153,"d":"2020-12-17"},
{"p":154,"d":"2020-12-08"},{"p":154,"d":"2020-12-19"},{"p":155,"d":"2020-12-11"},{"p":155,"d":"2020-12-21"},{"p":156,"d":"2020-12-14"},{"p":156,"d":"2020-12-24"},{"p":157,"d":"2020-12-16"},{"p":157,"d":"2020-12-26"},{"p":158,"d":"2020-12-18"},{"p":158,"d":"2020-12-29"},
{"p":159,"d":"2021-01-01"},{"p":159,"d":"2021-01-08"},{"p":160,"d":"2021-01-03"},{"p":160,"d":"2021-01-14"},{"p":161,"d":"2021-01-06"},{"p":161,"d":"2021-01-16"},{"p":162,"d":"2021-01-12"},{"p":162,"d":"2021-01-20"},{"p":163,"d":"2021-01-16"},{"p":163,"d":"2021-01-26"},
{"p":164,"d":"2021-01-19"},{"p":164,"d":"2021-01-25"},{"p":166,"d":"2021-03-03"},{"p":167,"d":"2021-03-07"},{"p":168,"d":"2021-03-08"},{"p":168,"d":"2021-03-13"},{"p":169,"d":"2021-03-10"},{"p":169,"d":"2021-03-16"},{"p":170,"d":"2021-03-15"},{"p":170,"d":"2021-03-21"},
{"p":171,"d":"2021-03-18"},{"p":171,"d":"2021-03-24"},{"p":172,"d":"2021-03-21"},{"p":172,"d":"2021-03-27"},{"p":173,"d":"2021-03-23"},{"p":173,"d":"2021-03-30"},{"p":174,"d":"2021-03-27"},{"p":174,"d":"2021-04-02"},{"p":175,"d":"2021-03-30"},{"p":175,"d":"2021-04-06"},
{"p":176,"d":"2021-04-03"},{"p":176,"d":"2021-04-09"},{"p":177,"d":"2021-04-06"},{"p":177,"d":"2021-04-12"},{"p":178,"d":"2021-04-11"},{"p":178,"d":"2021-04-16"},{"p":179,"d":"2021-04-16"},{"p":179,"d":"2021-04-21"},{"p":180,"d":"2021-04-20"},{"p":180,"d":"2021-04-24"},
{"p":181,"d":"2021-04-24"},{"p":181,"d":"2021-04-28"},{"p":182,"d":"2021-04-27"},{"p":182,"d":"2021-05-01"},{"p":183,"d":"2021-04-30"},{"p":183,"d":"2021-05-04"},{"p":184,"d":"2021-05-02"},{"p":184,"d":"2021-05-05"},{"p":185,"d":"2021-05-08"},{"p":185,"d":"2021-05-13"},
{"p":186,"d":"2021-05-11"},{"p":186,"d":"2021-05-15"}
]},
"layer":[
{"data":{"name":"evt"},
 "mark":{"type":"point","shape":"circle","filled":true,"size":44,"color":"#87cefa","stroke":"white","strokeWidth":0.8,"opacity":0.38},
 "encoding":{
  "x":{"field":"d","type":"temporal","title":"Date","scale":{"type":"utc","domain":[{"year":2020,"month":1,"date":31,"utc":true},{"year":2021,"month":6,"date":1,"hours":5,"utc":true}]},
       "axis":{"orient":"bottom","labelExpr":"utcFormat(datum.value, '%Y-%m')","labelPadding":3,"titlePadding":3,"labelFlush":false,"labelOverlap":false,
         "values":[{"year":2020,"month":3,"date":1,"utc":true},{"year":2020,"month":5,"date":1,"utc":true},{"year":2020,"month":7,"date":1,"utc":true},{"year":2020,"month":9,"date":1,"utc":true},{"year":2020,"month":11,"date":1,"utc":true},{"year":2021,"month":1,"date":1,"utc":true},{"year":2021,"month":3,"date":1,"utc":true},{"year":2021,"month":5,"date":1,"utc":true}]}},
  "y":{"field":"p","type":"quantitative","title":"Patients","scale":{"domain":[-9.3,195.3],"nice":false,"zero":false},
       "axis":{"values":[0,25,50,75,100,125,150,175],"labelPadding":3,"titlePadding":5}}
 }},
{"data":{"name":"adm"},
 "mark":{"type":"point","shape":"circle","filled":true,"size":44,"color":"#ff7a4a","stroke":"white","strokeWidth":0.8,"opacity":1},
 "encoding":{
  "x":{"field":"d","type":"temporal"},
  "y":{"field":"p","type":"quantitative"}
 }},
{"data":{"name":"lines"},
 "mark":{"type":"rule","color":"#1f77b4","strokeWidth":1.5,"strokeDash":[5.5,2.4]},
 "encoding":{"x":{"field":"d","type":"temporal"}}},
{"data":{"values":[{"top":195.3}]},
 "mark":{"type":"rule","color":"black","strokeWidth":1},
 "encoding":{"y":{"field":"top","type":"quantitative"}}}
]
}
